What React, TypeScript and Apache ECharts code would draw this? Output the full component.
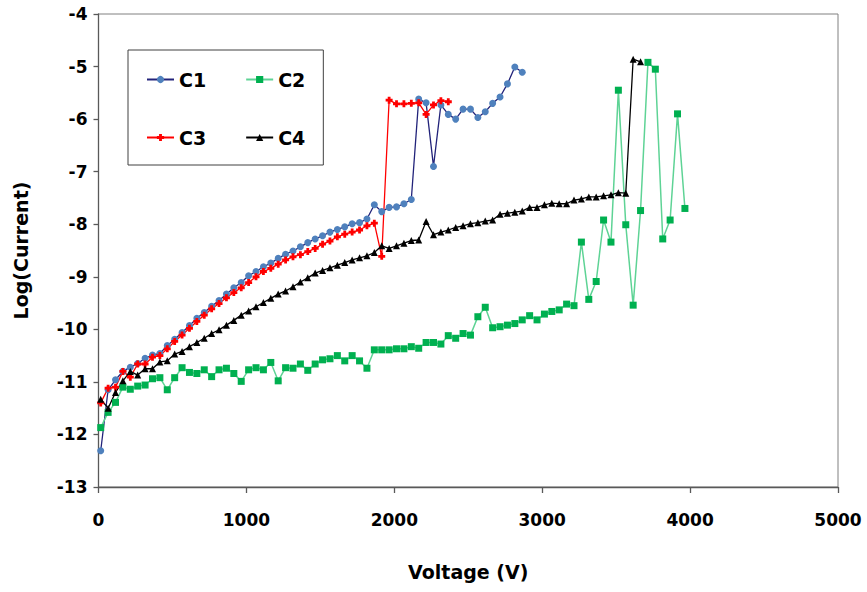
import React, { useEffect, useRef } from "react";
import * as echarts from "echarts";

// Voltage (V) of each measurement step
const VOLTAGE = [
  15, 65, 115, 165, 215, 265, 315, 365, 415, 465,
  515, 565, 615, 665, 715, 765, 815, 865, 915, 965,
  1015, 1065, 1115, 1165, 1215, 1265, 1315, 1365, 1415, 1465,
  1515, 1565, 1615, 1665, 1715, 1765, 1815, 1865, 1915, 1965,
  2015, 2065, 2115, 2165, 2215, 2265, 2315, 2365, 2415, 2465,
  2515, 2565, 2615, 2665, 2715, 2765, 2815, 2865, 2915, 2965,
  3015, 3065, 3115, 3165, 3215, 3265, 3315, 3365, 3415, 3465,
  3515, 3565, 3615, 3665, 3715, 3765, 3815, 3865, 3915, 3965,
];

const SERIES_NAMES = ["C1", "C2", "C3", "C4"];

// Log(Current) values
const C1_VALUES = [
  -12.31, -11.15, -10.96, -10.8, -10.72, -10.65, -10.55, -10.49, -10.46, -10.31,
  -10.19, -10.06, -9.93, -9.79, -9.68, -9.56, -9.45, -9.33, -9.21, -9.11,
  -8.98, -8.9, -8.81, -8.74, -8.65, -8.57, -8.51, -8.43, -8.35, -8.28,
  -8.22, -8.15, -8.1, -8.05, -7.99, -7.97, -7.9, -7.63, -7.76, -7.68,
  -7.67, -7.61, -7.53, -5.62, -5.69, -6.9, -5.73, -5.91, -6.0, -5.81,
  -5.81, -5.97, -5.86, -5.7, -5.58, -5.33, -5.01, -5.11,
];

const C2_VALUES = [
  -11.87, -11.58, -11.39, -11.1, -11.14, -11.08, -11.06, -10.94, -10.92, -11.15,
  -10.92, -10.73, -10.82, -10.84, -10.77, -10.9, -10.77, -10.74, -10.84, -10.99,
  -10.77, -10.73, -10.77, -10.63, -10.98, -10.73, -10.74, -10.66, -10.78, -10.66,
  -10.58, -10.56, -10.5, -10.6, -10.5, -10.6, -10.74, -10.39, -10.39, -10.39,
  -10.37, -10.37, -10.33, -10.36, -10.25, -10.25, -10.28, -10.12, -10.17, -10.08,
  -10.11, -9.76, -9.58, -9.97, -9.95, -9.92, -9.89, -9.82, -9.74, -9.82,
  -9.71, -9.66, -9.63, -9.52, -9.55, -8.34, -9.43, -9.09, -7.92, -8.34,
  -5.45, -8.01, -9.54, -7.74, -4.92, -5.05, -8.28, -7.92, -5.9, -7.7,
];

const C3_VALUES = [
  -11.4, -11.12, -11.1, -10.8, -10.91, -10.66, -10.66, -10.53, -10.5, -10.37,
  -10.23, -10.11, -9.98, -9.85, -9.73, -9.61, -9.51, -9.4, -9.3, -9.21,
  -9.11, -9.0, -8.9, -8.84, -8.76, -8.68, -8.62, -8.58, -8.52, -8.46,
  -8.38, -8.32, -8.24, -8.19, -8.15, -8.11, -8.03, -7.98, -8.61, -5.64,
  -5.71, -5.71, -5.7, -5.69, -5.91, -5.73, -5.65, -5.67,
];

const C4_VALUES = [
  -11.33, -11.5, -11.2, -10.98, -10.8, -10.87, -10.75, -10.75, -10.62, -10.6,
  -10.47, -10.42, -10.33, -10.25, -10.17, -10.08, -10.01, -9.92, -9.83, -9.73,
  -9.65, -9.57, -9.49, -9.41, -9.33, -9.27, -9.19, -9.1, -9.02, -8.93,
  -8.88, -8.83, -8.78, -8.73, -8.68, -8.64, -8.6, -8.54, -8.41, -8.46,
  -8.41, -8.36, -8.31, -8.3, -7.95, -8.2, -8.15, -8.11, -8.06, -8.03,
  -7.99, -7.97, -7.94, -7.92, -7.81, -7.79, -7.77, -7.75, -7.68, -7.68,
  -7.63, -7.6, -7.61, -7.61, -7.54, -7.52, -7.48, -7.48, -7.46, -7.44,
  -7.4, -7.41, -4.86, -4.91,
];

const pair = (vals: number[]) => vals.map((v, i) => [VOLTAGE[i], v]);

const FONT = "'DejaVu Sans', 'Liberation Sans', sans-serif";

export default function App() {
  const ref = useRef<HTMLDivElement>(null);

  useEffect(() => {
    if (!ref.current) return;
    const chart = echarts.init(ref.current, null, { renderer: "svg" });
    const axisColor = "#595959";
    chart.setOption({
      animation: false,
      backgroundColor: "#ffffff",
      textStyle: { fontFamily: FONT },
      grid: {
        left: 98.5,
        right: 29,
        top: 14,
        bottom: 105,
        show: true,
        borderColor: "#808080",
        borderWidth: 1,
        backgroundColor: "transparent",
      },
      legend: {
        data: SERIES_NAMES,
        left: 128,
        top: 50,
        width: 180,
        orient: "horizontal",
        itemGap: 39,
        itemWidth: 27,
        itemHeight: 9,
        padding: [20, 18, 18, 18],
        borderColor: "#404040",
        borderWidth: 1,
        textStyle: {
          fontFamily: FONT,
          fontSize: 19,
          fontWeight: "bold",
          color: "#000",
        },
      },
      xAxis: {
        type: "value",
        min: 0,
        max: 5000,
        interval: 1000,
        name: "Voltage (V)",
        nameLocation: "middle",
        nameGap: 75,
        nameTextStyle: { fontFamily: FONT, fontSize: 19, fontWeight: "bold", color: "#000" },
        axisLine: { show: true, onZero: false, lineStyle: { color: axisColor, width: 1.3 } },
        axisTick: { show: true, inside: false, length: 6, lineStyle: { color: axisColor, width: 1.3 } },
        axisLabel: {
          fontFamily: FONT,
          fontSize: 17,
          fontWeight: "bold",
          color: "#000",
          margin: 24,
          formatter: (v: number) => String(v),
        },
        splitLine: { show: false },
      },
      yAxis: {
        type: "value",
        min: -13,
        max: -4,
        interval: 1,
        name: "Log(Current)",
        nameLocation: "middle",
        nameRotate: 90,
        nameGap: 68,
        nameTextStyle: { fontFamily: FONT, fontSize: 19, fontWeight: "bold", color: "#000" },
        axisLine: { show: true, onZero: false, lineStyle: { color: axisColor, width: 1.3 } },
        axisTick: { show: true, inside: false, length: 5, lineStyle: { color: axisColor, width: 1.3 } },
        axisLabel: {
          fontFamily: FONT,
          fontSize: 17,
          fontWeight: "bold",
          color: "#000",
          margin: 11,
          formatter: (v: number) => String(v),
        },
        splitLine: { show: false },
      },
      series: [
        {
          name: "C1",
          type: "line",
          data: pair(C1_VALUES),
          symbol: "circle",
          symbolSize: 7,
          showAllSymbol: true,
          itemStyle: { color: "#4F81BD" },
          lineStyle: { color: "#22237A", width: 1.3 },
        },
        {
          name: "C2",
          type: "line",
          data: pair(C2_VALUES),
          symbol: "rect",
          symbolSize: 7,
          showAllSymbol: true,
          itemStyle: { color: "#00B050" },
          lineStyle: { color: "#5ED395", width: 1.5 },
        },
        {
          name: "C3",
          type: "line",
          data: pair(C3_VALUES),
          symbol: "path://M3,0H7V3H10V7H7V10H3V7H0V3H3Z",
          symbolSize: 7,
          showAllSymbol: true,
          itemStyle: { color: "#FF0000" },
          lineStyle: { color: "#FF0000", width: 1.3 },
        },
        {
          name: "C4",
          type: "line",
          data: pair(C4_VALUES),
          symbol: "triangle",
          symbolSize: 7,
          showAllSymbol: true,
          itemStyle: { color: "#000000" },
          lineStyle: { color: "#000000", width: 1.3 },
        },
      ],
    });
    return () => chart.dispose();
  }, []);

  return (
    <div
      ref={ref}
      style={{ position: "fixed", left: 0, top: 0, width: 867, height: 592, background: "#fff" }}
    />
  );
}
